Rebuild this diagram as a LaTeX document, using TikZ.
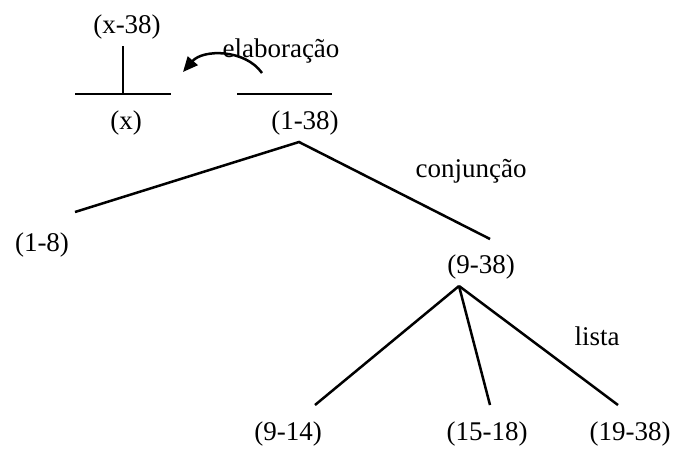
\documentclass[tikz,border=0pt]{standalone}
\usepackage{fontspec}
\setmainfont{Liberation Serif}
\usetikzlibrary{arrows.meta}

\begin{document}
\begin{tikzpicture}[x=1pt, y=-1pt,
        lbl/.style={anchor=base, inner sep=0pt, font=\fontsize{27}{32}\selectfont},
        edge/.style={line width=2.5pt},
        arrow/.style={-{Triangle[length=15pt, width=13pt]}, line width=2.5pt}
    ]
    \useasboundingbox (0,0) rectangle (679,448);

    % Satellite (x)
    \node[lbl] (sat) at (127,33) {(x-38)};
    \node[lbl] (satx) at (126,129) {(x)};
    \coordinate (sattop) at (123,46);
    \coordinate (satbar) at (123,94);
    \coordinate (satl) at (75,94);
    \coordinate (satr) at (171,94);
    \draw[edge] (satl) -- (satr);
    \draw[edge] (sattop) -- (satbar);

    % Nucleus (1-38)
    \node[lbl] (nuc) at (305,129) {(1-38)};
    \coordinate (nucl) at (237,94);
    \coordinate (nucr) at (332,94);
    \draw[edge] (nucl) -- (nucr);

    % elaboração
    \node[lbl] (elab) at (281,57) {elaboração};
    \coordinate (elabs) at (262,73);
    \coordinate (elabe) at (183,72);
    \draw[arrow] (elabs) .. controls (245,49) and (203,49) .. (elabe);

    % conjunção
    \coordinate (conj) at (299,142);
    \coordinate (conjl) at (75,212);
    \coordinate (conjr) at (490,239);
    \draw[edge] (conjl) -- (conj) -- (conjr);
    \node[lbl] (conjlbl) at (471,177) {conjunção};
    \node[lbl] (n18) at (42,251) {(1-8)};
    \node[lbl] (n938) at (481,273) {(9-38)};

    % lista
    \coordinate (list) at (459,286);
    \coordinate (lista) at (315,405);
    \coordinate (listb) at (490,405);
    \coordinate (listc) at (618,405);
    \draw[edge] (list) -- (lista);
    \draw[edge] (list) -- (listb);
    \draw[edge] (list) -- (listc);
    \node[lbl] (listlbl) at (597,345) {lista};
    \node[lbl] (n914) at (288,440) {(9-14)};
    \node[lbl] (n1518) at (487,440) {(15-18)};
    \node[lbl] (n1938) at (630,440) {(19-38)};
\end{tikzpicture}
\end{document}
